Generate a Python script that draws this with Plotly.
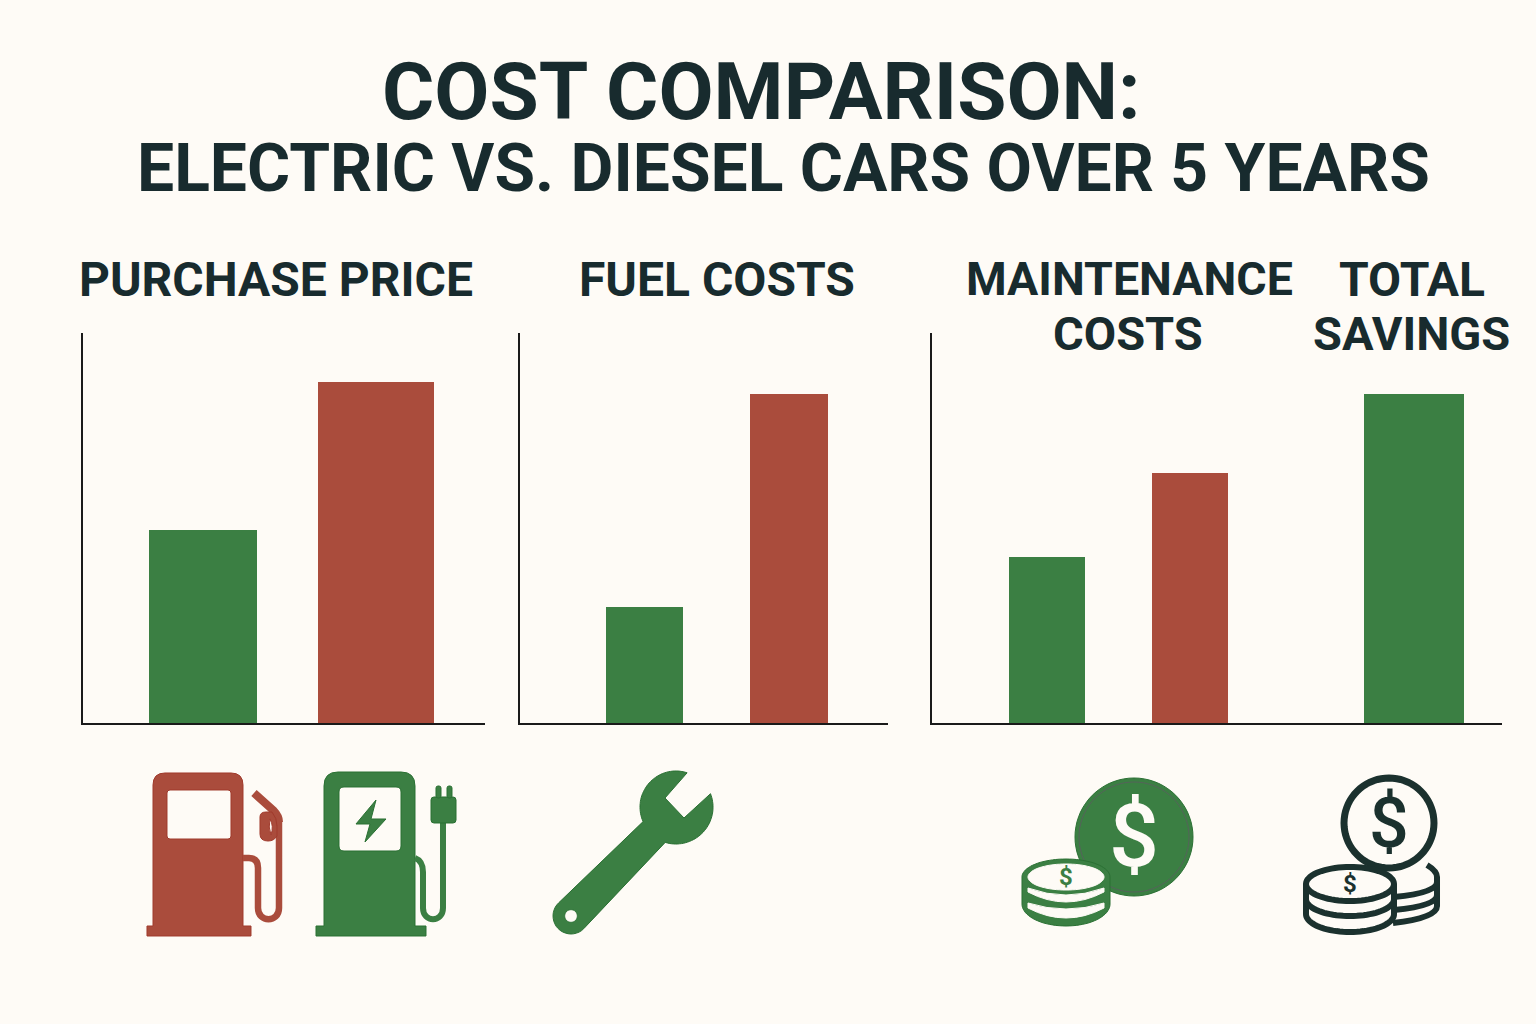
import math
import re

import plotly.graph_objects as go

W, H = 1536, 1024

BG = "#FEFBF6"
GREEN = "#3B7F43"
GREEN_EDGE = "#2A7033"
RED = "#AA4C3C"
RED_EDGE = "#A03A2C"
DARK = "#182B2E"
COIN_DARK = "#1B312E"

title_main = "COST COMPARISON:"
title_sub = "ELECTRIC VS. DIESEL CARS OVER 5 YEARS"

# values are bar heights, the chart has no scale
cars = ["Electric", "Diesel"]
purchase_price = [193, 341]
fuel_costs = [116, 329]
maintenance_costs = [166, 250]
savings_label = ["Total savings"]
total_savings = [329]
car_colors = [GREEN, RED]

AXIS_TOP, AXIS_BOTTOM = 333, 723
Y_MAX = AXIS_BOTTOM - AXIS_TOP


def px(path):
    # icons are sketched in page pixels, shapes want paper coordinates
    return re.sub(
        r"(-?[\d.]+),(-?[\d.]+)",
        lambda m: f"{float(m[1]) / W:.5f},{1 - float(m[2]) / H:.5f}",
        path,
    )


def arc(cx, cy, rx, ry, a0, a1, n=40):
    pts = []
    for i in range(n + 1):
        a = math.radians(a0 + (a1 - a0) * i / n)
        pts.append(f"{cx + rx * math.cos(a):.1f},{cy + ry * math.sin(a):.1f}")
    return pts


def poly(pts, close=True):
    return "M" + " L".join(pts) + (" Z" if close else "")


def ellipse(cx, cy, rx, ry=None):
    return poly(arc(cx, cy, rx, ry or rx, 0, 360, 72))


def rrect(x0, y0, x1, y1, r):
    return (
        f"M{x0 + r},{y0} L{x1 - r},{y0} Q{x1},{y0} {x1},{y0 + r} "
        f"L{x1},{y1 - r} Q{x1},{y1} {x1 - r},{y1} L{x0 + r},{y1} "
        f"Q{x0},{y1} {x0},{y1 - r} L{x0},{y0 + r} Q{x0},{y0} {x0 + r},{y0} Z"
    )


def pump_body(x0, x1, top, base0, base1, r):
    return (
        f"M{x0},926 L{x0},{top + r} Q{x0},{top} {x0 + r},{top} L{x1 - r},{top} "
        f"Q{x1},{top} {x1},{top + r} L{x1},926 L{base1},926 L{base1},936 "
        f"L{base0},936 L{base0},926 Z"
    )


shapes = []


def fill(path, color, edge=None, width=1):
    shapes.append(dict(type="path", path=px(path), xref="paper", yref="paper",
                       fillcolor=color, line=dict(color=edge or color, width=width)))


def stroke(path, color, width):
    shapes.append(dict(type="path", path=px(path), xref="paper", yref="paper",
                       line=dict(color=color, width=width)))


# fuel pump
fill(pump_body(153, 243, 773, 147, 251, 12) + " " + rrect(167, 790, 231, 839, 3), RED, RED_EDGE)
stroke("M243,858 L249,858 Q258,858 258,868 L258,908 C258,923 279,923 279,908 L279,822", RED, 6.5)
stroke("M279,822 Q279,816 274,811 L254,793", RED, 8)
fill("M260,817 Q260,812 266,812 L272,812 Q277,818 277,826 L277,836 Q274,841 268,841 "
     "Q260,841 260,834 Z M270,819 Q274,826 271,835 Q268,827 270,819 Z", RED, RED_EDGE)

# charging station
fill(pump_body(324, 415, 772, 316, 426, 14) + " " + rrect(339, 787, 401, 851, 5)
     + " M376,800 L356,824 L370,824 L365,842 L386,819 L371,819 Z", GREEN, GREEN_EDGE)
stroke("M415,858 Q423,861 423,872 L423,908 C423,923 443,923 443,908 L443,822", GREEN, 6)
fill(rrect(431, 797, 456, 823, 3), GREEN, GREEN_EDGE)
fill(rrect(436, 786, 441, 798, 2), GREEN, GREEN_EDGE)
fill(rrect(447, 786, 452, 798, 2), GREEN, GREEN_EDGE)

# wrench
wrench = (
    arc(676, 807, 36, 36, -72, -204)
    + arc(571, 916, 18, 18, -133, -315, 20)
    + arc(676, 807, 37, 37, 107, -21)
    + ["684,818", "665,798"]
)
fill(poly(wrench) + " " + ellipse(571, 916, 6.3), GREEN, GREEN_EDGE)

# big coin with small stack
fill(ellipse(1134, 837, 59), GREEN, GREEN_EDGE)
stroke(ellipse(1134, 837, 55), "#55635A", 1)
fill("M1022,877 " + " L".join(arc(1066, 877, 44, 18, 180, 360))
     + " L1110,904 " + " L".join(arc(1066, 904, 44, 22, 0, 180)) + " Z", GREEN, GREEN_EDGE)
fill(ellipse(1066, 877, 38, 13), BG)
fill("M1028,888 Q1066,902 1104,888 L1104,892 Q1066,912 1028,892 Z", BG)
fill("M1028,903 Q1066,915 1104,903 L1104,908 Q1066,928 1028,908 Z", BG)

# coin with outlined stacks
stroke("M1427,865 Q1437,871 1437,877 L1437,906 Q1437,918 1393,923", COIN_DARK, 6)
stroke("M1437,882 Q1437,893 1394,897", COIN_DARK, 6)
stroke("M1437,895 Q1437,906 1394,910", COIN_DARK, 6)
fill(ellipse(1389, 823, 45), BG, COIN_DARK, 7)
fill(ellipse(1350, 884, 44, 17), BG, COIN_DARK, 6)
stroke("M1306,884 L1306,914 " + " L".join(arc(1350, 914, 44, 18, 180, 0))
       + " L1394,884", COIN_DARK, 6)
stroke(poly(arc(1350, 899, 44, 17, 180, 0), close=False), COIN_DARK, 6)

fig = go.Figure()


def add_panel(n, xs, ys, colors, widths, x0, x1, xrange):
    fig.add_trace(go.Bar(x=xs, y=ys, width=widths, marker=dict(color=colors, line_width=0),
                         xaxis=f"x{n}", yaxis=f"y{n}", showlegend=False, hoverinfo="x+y"))
    fig.layout[f"xaxis{n}"] = dict(
        domain=[x0 / W, x1 / W], range=xrange, anchor=f"y{n}", type="category",
        showgrid=False, zeroline=False, showline=True, linecolor="#1A1A1A", linewidth=2,
        showticklabels=False, ticks="", fixedrange=True)
    fig.layout[f"yaxis{n}"] = dict(
        domain=[1 - AXIS_BOTTOM / H, 1 - AXIS_TOP / H], range=[0, Y_MAX], anchor=f"x{n}",
        showgrid=False, zeroline=False, showline=n != 4, linecolor="#1A1A1A", linewidth=2,
        showticklabels=False, ticks="", fixedrange=True)


add_panel(1, cars, purchase_price, car_colors, [0.624, 0.67], 83, 485, [-0.694, 1.63])
add_panel(2, cars, fuel_costs, car_colors, [0.533, 0.54], 520, 888, [-0.862, 1.685])
add_panel(3, cars, maintenance_costs, car_colors, [0.531, 0.531], 932, 1300, [-0.804, 1.769])
add_panel(4, savings_label, total_savings, [GREEN], [1.0], 1300, 1502, [-1.14, 0.88])


def label(text, x, y, size, color=DARK, weight=700, family="Roboto"):
    return dict(text=text, x=x / W, y=1 - y / H, xref="paper", yref="paper", showarrow=False,
                xanchor="center", yanchor="middle",
                font=dict(family=family, size=size, color=color, weight=weight))


annotations = [
    label(title_main, 761, 92, 80),
    label(title_sub, 783, 168, 66),
    label("PURCHASE PRICE", 276, 279, 48),
    label("FUEL COSTS", 717, 279, 48),
    label("MAINTENANCE", 1129, 279, 46.5),
    label("COSTS", 1128, 333, 47),
    label("TOTAL", 1412, 279, 48),
    label("SAVINGS", 1411, 333, 47),
    label("$", 1134, 835, 88, BG, 500),
    label("$", 1066, 877, 24, GREEN),
    label("$", 1389, 823, 70, COIN_DARK, 500),
    label("$", 1350, 884, 24, COIN_DARK),
]

fig.update_layout(
    width=W, height=H, margin=dict(l=0, r=0, t=0, b=0),
    paper_bgcolor=BG, plot_bgcolor=BG, shapes=shapes, annotations=annotations,
    bargap=0,
)
fig.write_html("out.html", config={"displayModeBar": False},
               post_script="document.body.style.margin = '0';")
